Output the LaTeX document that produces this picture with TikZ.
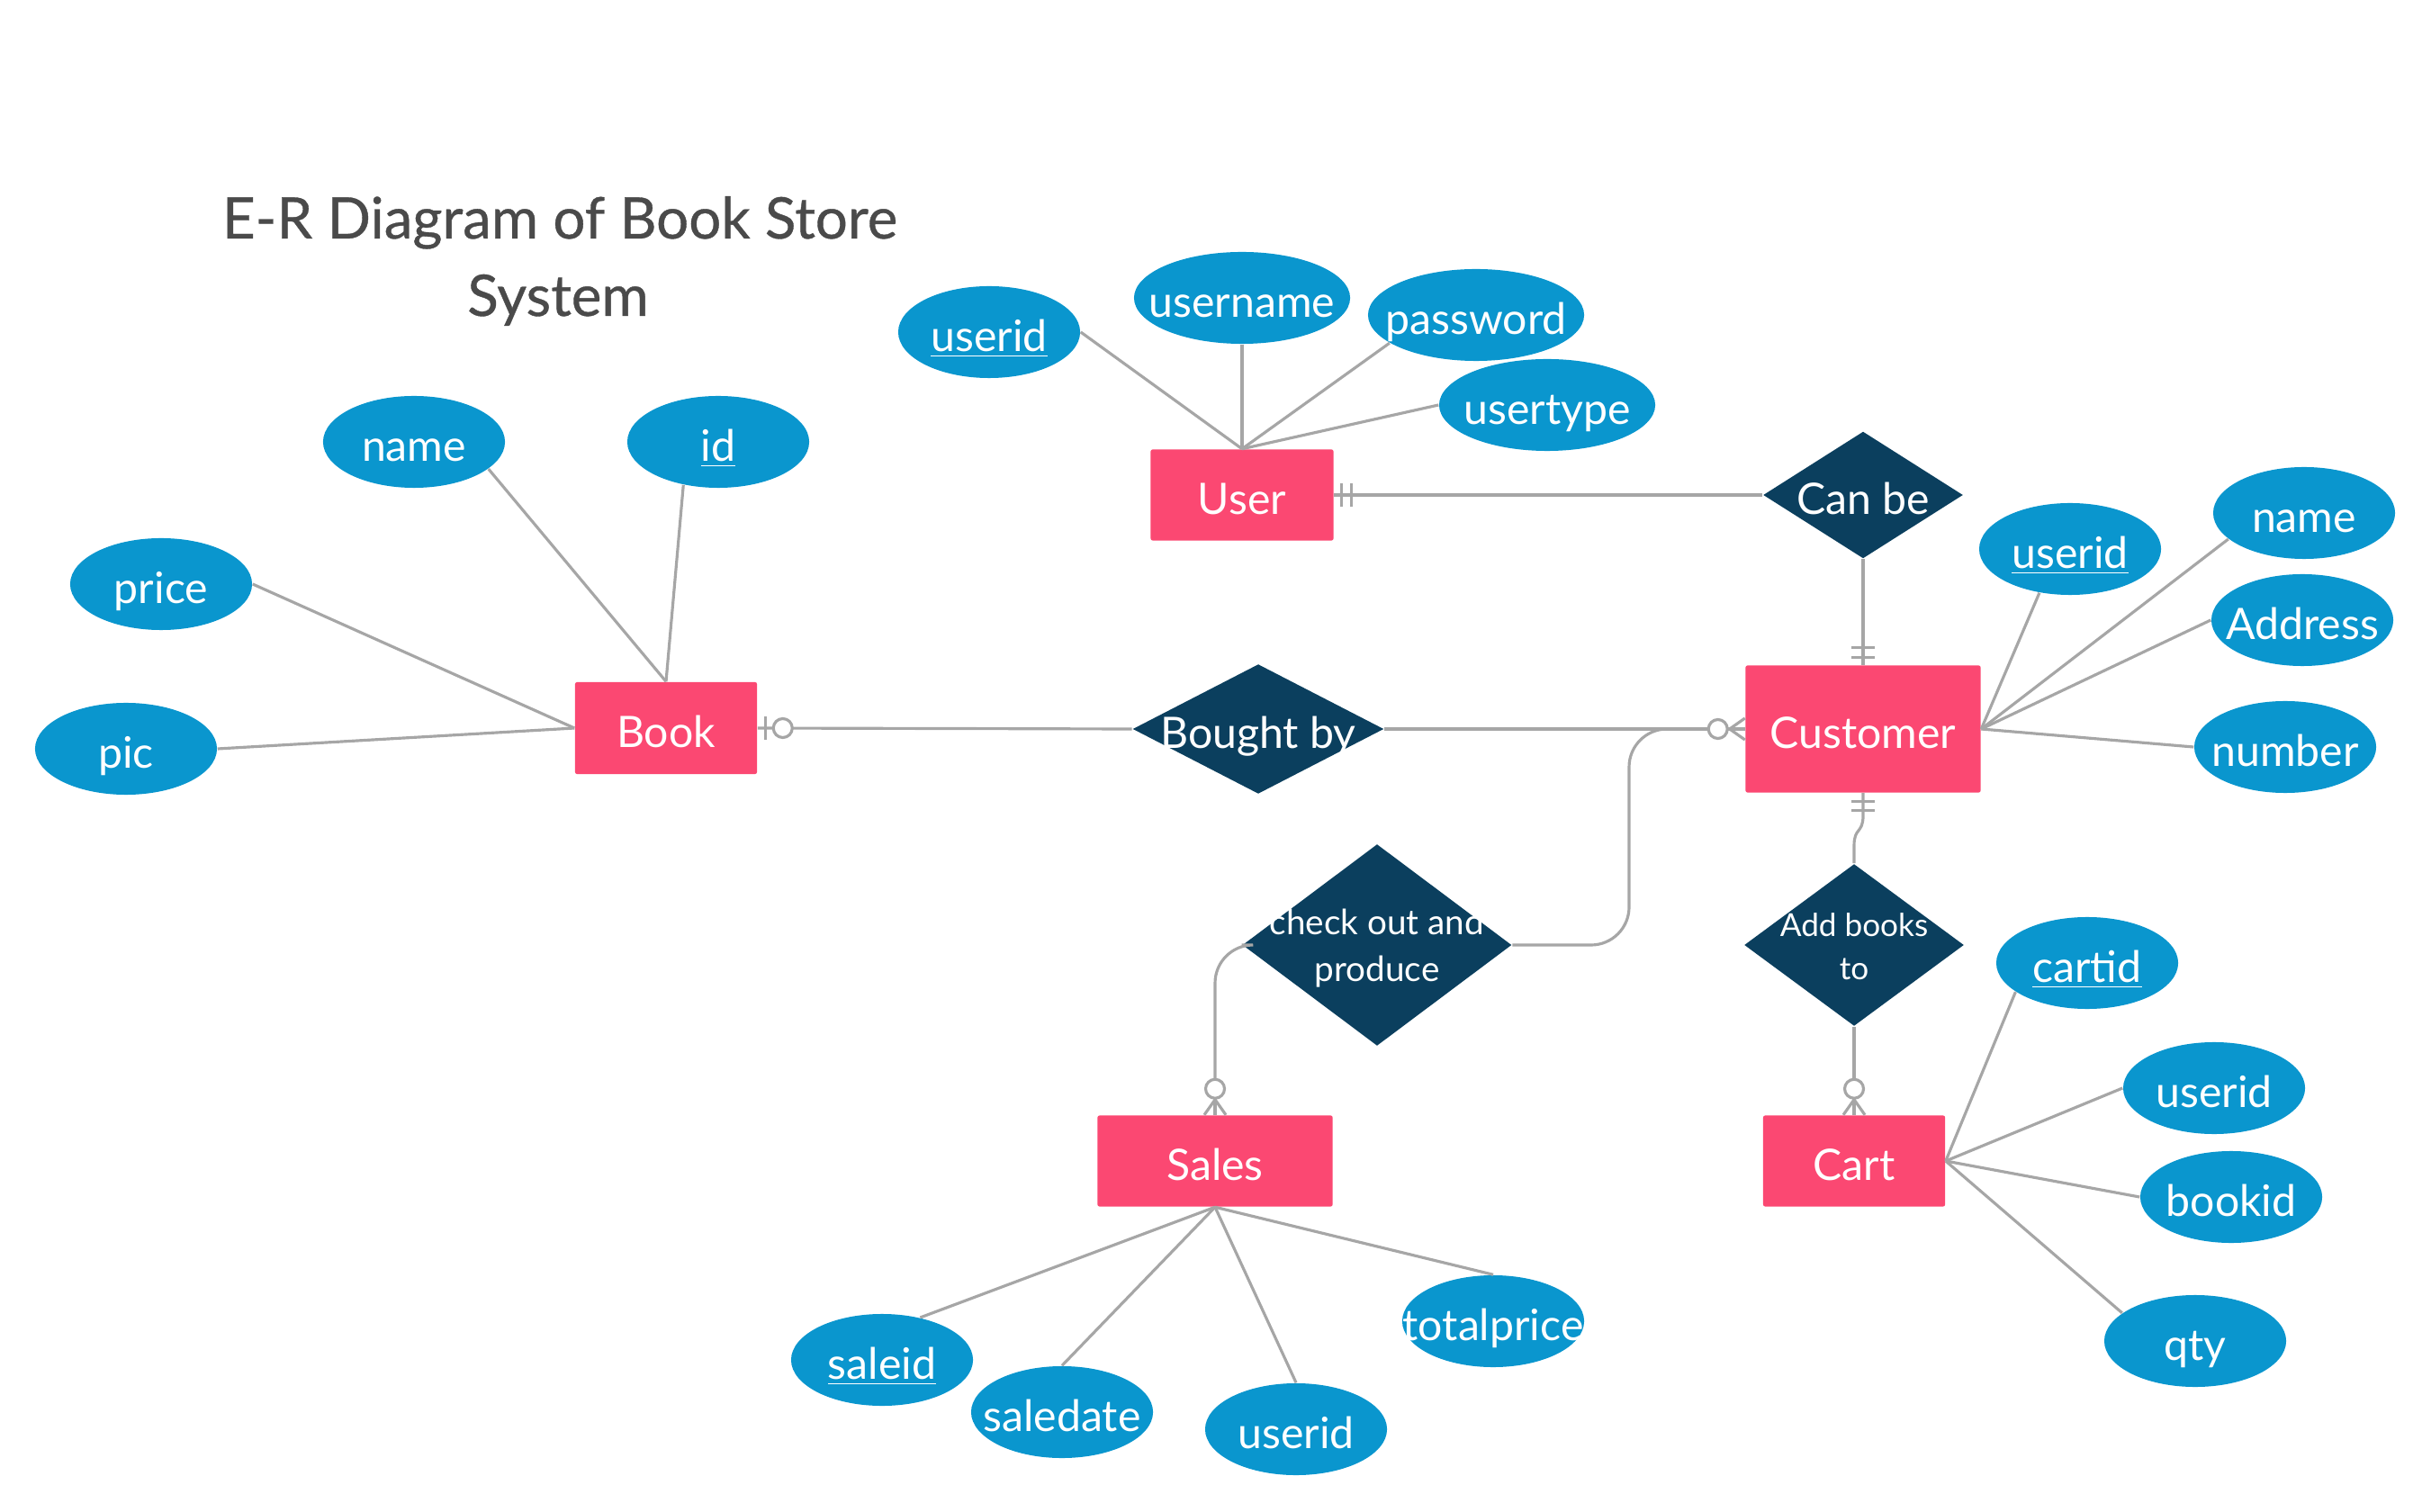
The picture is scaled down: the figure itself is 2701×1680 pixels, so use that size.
\documentclass[tikz,border=0pt]{standalone}
\usepackage{fontspec}
\setmainfont{Lato}
\newfontfamily\titlefont[FakeBold=0.6]{Lato}
\usetikzlibrary{shapes.geometric,calc}
\definecolor{entpink}{HTML}{FB4872}
\definecolor{relnavy}{HTML}{0B3F5E}
\definecolor{attblue}{HTML}{0A96CE}
\definecolor{linegray}{HTML}{A6A6A6}
\definecolor{titlegray}{HTML}{4A4A4A}
\newcommand\lblstrut{\rule[-2.5pt]{0pt}{17pt}}
\newcommand\lbl[1]{\makebox[0pt]{\lblstrut#1}}
\begin{document}
\begin{tikzpicture}[x=0.01cm,y=-0.01cm,
  lblfont/.style={font=\fontsize{13.7}{16}\selectfont},
  entity/.style={rectangle, fill=entpink, inner sep=0pt, text=white, lblfont, rounded corners=0.6pt},
  relation/.style={diamond, fill=relnavy, inner sep=0pt, text=white, lblfont},
  attrib/.style={ellipse, fill=attblue, inner sep=0pt, text=white, lblfont, minimum width=2.02cm, minimum height=1.02cm},
  wideattrib/.style={attrib, minimum width=2.4cm},
  conn/.style={draw=linegray, line width=0.9pt},
  attline/.style={draw=linegray, line width=0.9pt},
  markcirc/.style={draw=linegray, line width=0.9pt, fill=white},
  smalltxt/.style={text=white, inner sep=0pt, anchor=base},
  titletxt/.style={text=titlegray, inner sep=0pt, anchor=base, font=\titlefont\fontsize{18.1}{24}\selectfont}
]
\useasboundingbox (0,0) rectangle (2701,1680);

% title
\node[titletxt] (title1) at (622,265) {E-R Diagram of Book Store};
\node[titletxt] (title2) at (620,351) {System};

% entities
\node[entity, minimum width=2.03cm, minimum height=1.01cm] (user) at (1380,550) {\lbl{User}};
\node[entity, minimum width=2.02cm, minimum height=1.02cm] (book) at (740,809) {\lbl{Book}};
\node[entity, minimum width=2.61cm, minimum height=1.41cm] (customer) at (2070,810) {\lbl{Customer}};
\node[entity, minimum width=2.61cm, minimum height=1.01cm] (sales) at (1350,1290) {\lbl{Sales}};
\node[entity, minimum width=2.02cm, minimum height=1.01cm] (cart) at (2060,1290) {\lbl{Cart}};

% relations
\node[relation, minimum width=2.22cm, minimum height=1.41cm] (canbe) at (2070,550) {\lbl{Can be}};
\node[relation, minimum width=2.79cm, minimum height=1.44cm] (bought) at (1398,810) {\lbl{Bought by}};
\node[relation, minimum width=2.99cm, minimum height=2.24cm] (checkout) at (1530,1050) {};
\node[smalltxt, font=\fontsize{11}{13}\selectfont] (checkoutA) at ($(checkout.center)+(0,-12)$) {check out and};
\node[smalltxt, font=\fontsize{11}{13}\selectfont] (checkoutB) at ($(checkout.center)+(0,40)$) {produce};
\node[relation, minimum width=2.44cm, minimum height=1.80cm] (addbooks) at (2060,1050) {};
\node[smalltxt, font=\fontsize{10}{12}\selectfont] (addbooksA) at ($(addbooks.center)+(0,-10)$) {Add books};
\node[smalltxt, font=\fontsize{10}{12}\selectfont] (addbooksB) at ($(addbooks.center)+(0,38)$) {to};

% attributes
\node[attrib] (uUserid) at (1099,369) {\lbl{\underline{userid}}};
\node[wideattrib] (uUsername) at (1380,331) {\lbl{username}};
\node[wideattrib] (uPassword) at (1640,350) {\lbl{password}};
\node[wideattrib] (uUsertype) at (1719,450) {\lbl{usertype}};

\node[attrib] (bName) at (460,491) {\lbl{name}};
\node[attrib] (bId) at (798,491) {\lbl{\underline{id}}};
\node[attrib] (bPrice) at (179,649) {\lbl{price}};
\node[attrib] (bPic) at (140,832) {\lbl{pic}};

\node[attrib] (cUserid) at (2300,610) {\lbl{\underline{userid}}};
\node[attrib] (cName) at (2560,570) {\lbl{name}};
\node[attrib] (cAddress) at (2558,689) {\lbl{Address}};
\node[attrib] (cNumber) at (2539,830) {\lbl{number}};

\node[attrib] (kCartid) at (2319,1070) {\lbl{\underline{cartid}}};
\node[attrib] (kUserid) at (2460,1209) {\lbl{userid}};
\node[attrib] (kBookid) at (2479,1330) {\lbl{bookid}};
\node[attrib] (kQty) at (2439,1490) {\lbl{qty}};

\node[attrib] (sSaleid) at (980,1511) {\lbl{\underline{saleid}}};
\node[attrib] (sSaledate) at (1180,1569) {\lbl{saledate}};
\node[attrib] (sUserid) at (1440,1588) {\lbl{userid}};
\node[attrib] (sTotal) at (1659,1468) {\lbl{totalprice}};

% attribute lines
\draw[attline] (uUserid.east) -- (user.north);
\draw[attline] (uUsername.south) -- (user.north);
\draw[attline] (uPassword.198) -- (user.north);
\draw[attline] (uUsertype.west) -- (user.north);

\draw[attline] (bName.340) -- (book.north);
\draw[attline] (bId.231) -- (book.north);
\draw[attline] (bPrice.east) -- (book.west);
\draw[attline] (bPic.east) -- (book.west);

\draw[attline] (cUserid.235) -- (customer.east);
\draw[attline] (cName.199) -- (customer.east);
\draw[attline] (cAddress.west) -- (customer.east);
\draw[attline] (cNumber.west) -- (customer.east);

\draw[attline] (kCartid.202) -- (cart.east);
\draw[attline] (kUserid.west) -- (cart.east);
\draw[attline] (kBookid.west) -- (cart.east);
\draw[attline] (kQty.159) -- (cart.east);

\draw[attline] (sSaleid.48) -- (sales.south);
\draw[attline] (sSaledate.north) -- (sales.south);
\draw[attline] (sUserid.north) -- (sales.south);
\draw[attline] (sTotal.north) -- (sales.south);

% relationship connectors
\draw[conn] (user.east) -- (canbe.west);
\draw[conn] (canbe.south) -- (customer.north);
\draw[conn] (book.east) -- (bought.west);
\coordinate (join) at (1810,810);
\draw[conn] (bought.east) -- (customer.west);
\draw[conn, rounded corners=12] (checkout.east) -| (join) -- (customer.west);
\draw[conn, rounded corners=12] (checkout.west) -| (sales.north);
\coordinate (cs1) at ($(customer.south)+(0,25)$);
\coordinate (cs2) at ($(addbooks.north)+(0,-20)$);
\draw[conn] (customer.south) -- (cs1) .. controls ($(cs1)+(0,20)$) and ($(cs2)+(0,-20)$) .. (cs2) -- (addbooks.north);
\draw[conn] (addbooks.south) -- (cart.north);

% cardinality marks
\draw[conn] ($(user.east)+(8,-13)$) -- ($(user.east)+(8,13)$);
\draw[conn] ($(user.east)+(19,-13)$) -- ($(user.east)+(19,13)$);
\draw[conn] ($(customer.north)+(-13,-8)$) -- ($(customer.north)+(13,-8)$);
\draw[conn] ($(customer.north)+(-13,-19)$) -- ($(customer.north)+(13,-19)$);
\draw[conn] ($(customer.south)+(-13,9)$) -- ($(customer.south)+(13,9)$);
\draw[conn] ($(customer.south)+(-13,19)$) -- ($(customer.south)+(13,19)$);
\draw[conn] ($(book.east)+(9,-13)$) -- ($(book.east)+(9,13)$);
\draw[markcirc] ($(book.east)+(28,0)$) circle[radius=10.5];
\draw[markcirc] ($(customer.west)+(-30,0)$) circle[radius=10.5];
\draw[conn] ($(customer.west)+(-17,0)$) -- ($(customer.west)+(0,-12)$);
\draw[conn] ($(customer.west)+(-17,0)$) -- (customer.west);
\draw[conn] ($(customer.west)+(-17,0)$) -- ($(customer.west)+(0,12)$);
\draw[markcirc] ($(sales.north)+(0,-29)$) circle[radius=10.5];
\draw[conn] ($(sales.north)+(0,-17)$) -- ($(sales.north)+(-12,0)$);
\draw[conn] ($(sales.north)+(0,-17)$) -- (sales.north);
\draw[conn] ($(sales.north)+(0,-17)$) -- ($(sales.north)+(12,0)$);
\draw[markcirc] ($(cart.north)+(0,-29)$) circle[radius=10.5];
\draw[conn] ($(cart.north)+(0,-17)$) -- ($(cart.north)+(-12,0)$);
\draw[conn] ($(cart.north)+(0,-17)$) -- (cart.north);
\draw[conn] ($(cart.north)+(0,-17)$) -- ($(cart.north)+(12,0)$);
\end{tikzpicture}
\end{document}
